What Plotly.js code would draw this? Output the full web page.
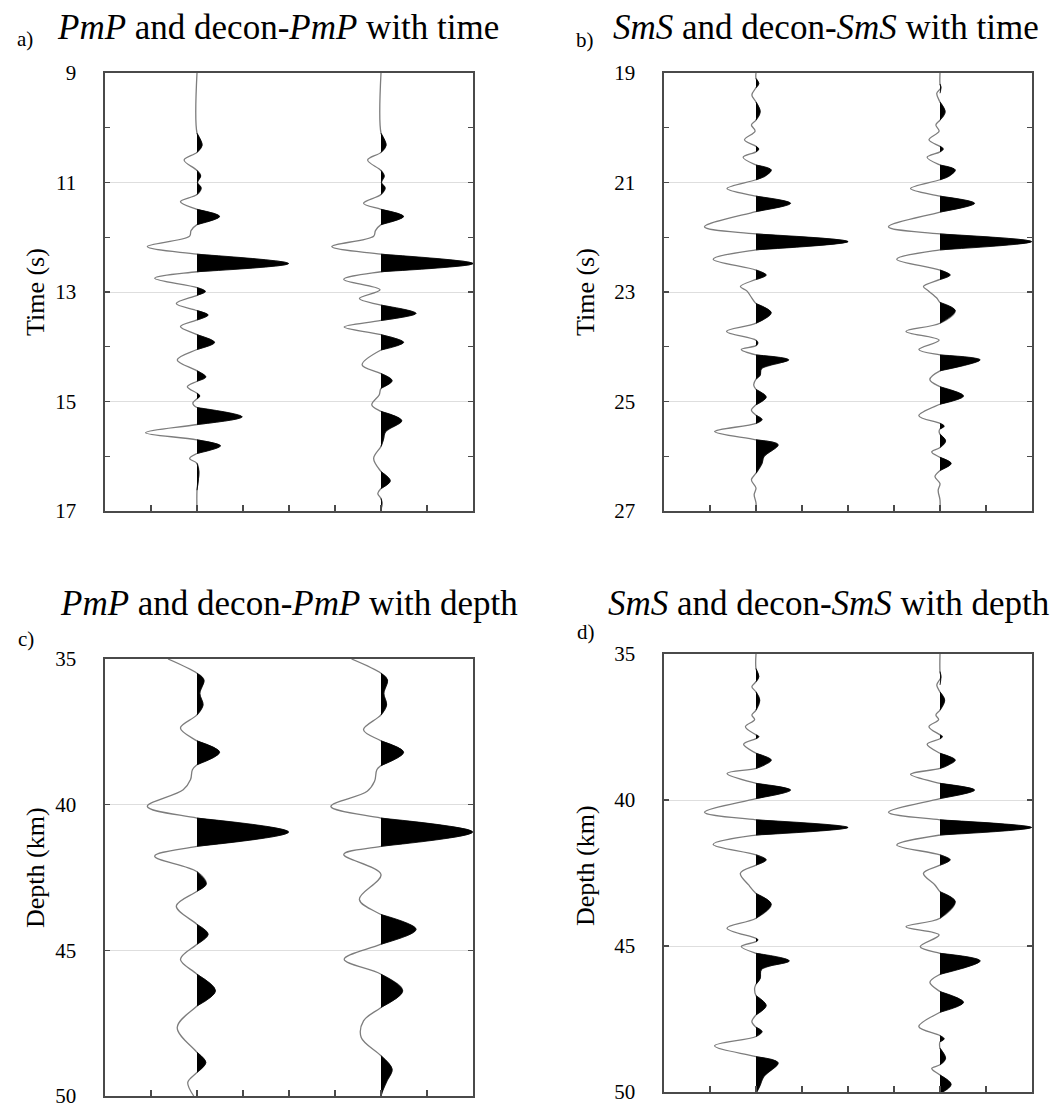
<!DOCTYPE html>
<html><head><meta charset="utf-8">
<script src="https://cdn.plot.ly/plotly-3.0.1.min.js"></script>
<style>html,body{margin:0;padding:0;background:#fff}</style>
</head><body>
<div id="chart" style="width:1062px;height:1107px"></div>
<script>
// ---------- DATA ----------
// a) PmP with time: node times (s) and trace amplitudes
const pmpTimeT = [9.0,10.10,10.32,10.45,10.59,10.78,10.88,11.0,11.10,11.22,11.35,11.49,11.62,11.77,11.88,11.98,12.17,12.31,12.48,12.63,12.75,12.92,12.99,13.06,13.21,13.34,13.42,13.51,13.63,13.78,13.92,14.05,14.24,14.44,14.55,14.63,14.73,14.85,14.90,14.95,15.03,15.11,15.28,15.42,15.57,15.70,15.81,15.95,16.04,16.13,16.28,16.62,17.0];
const pmpTimeA = [0,0,0.11,0,-0.28,0,0.08,0.01,0.09,0,-0.36,0,0.49,0,-0.13,-0.16,-1.08,0,1.99,0,-0.92,0,0.18,0,-0.45,0,0.24,0,-0.36,0,0.38,0,-0.43,0,0.19,0,-0.21,0,0.06,0,-0.09,0,0.98,0,-1.12,0,0.51,0,-0.16,0,0.04,0,0];
// a) decon-PmP with time
const deconPmpTimeT = [9.0,10.10,10.32,10.45,10.59,10.78,10.88,11.0,11.10,11.22,11.38,11.49,11.62,11.77,11.88,11.98,12.17,12.31,12.48,12.63,12.77,12.96,13.12,13.24,13.39,13.52,13.64,13.78,13.92,14.06,14.33,14.49,14.62,14.76,14.88,15.06,15.18,15.35,15.55,15.70,15.82,16.04,16.28,16.45,16.59,16.68,16.77,16.85,17.0];
const deconPmpTimeA = [0,0,0.11,0,-0.29,0,0.07,0.01,0.09,0,-0.38,0,0.49,0,-0.12,-0.16,-1.07,0,2.0,0,-0.81,-0.02,-0.47,0,0.76,0,-0.80,0,0.49,0,-0.41,0,0.24,0,-0.04,-0.20,0,0.45,0.10,0.05,0,-0.16,0,0.20,0,-0.07,0,0.02,0];
// b) SmS with time
const smsTimeT = [19.0,19.10,19.19,19.27,19.40,19.53,19.71,19.86,19.95,20.06,20.22,20.34,20.39,20.44,20.54,20.68,20.77,20.88,20.95,21.11,21.25,21.38,21.53,21.81,21.94,22.08,22.23,22.40,22.60,22.69,22.77,22.90,22.98,23.11,23.21,23.38,23.57,23.72,23.88,23.93,23.98,24.05,24.15,24.24,24.40,24.52,24.59,24.70,24.78,24.92,25.06,25.16,25.25,25.33,25.40,25.55,25.70,25.79,26.01,26.13,26.31,26.43,26.58,26.70,26.85,27.0];
const smsTimeA = [0,0,0.06,0,-0.09,0,0.09,0,-0.10,-0.02,-0.25,0,0.06,0,-0.28,0,0.33,0.20,0,-0.63,0,0.75,0,-1.12,0,2.0,0,-0.93,0,0.22,0,-0.34,-0.20,-0.09,0,0.33,0,-0.64,0,0.04,0,-0.32,0,0.71,0.12,0.09,0,-0.05,0,0.22,0,-0.10,0,0.13,0,-0.90,0,0.48,0.17,0.13,0,-0.10,0,-0.04,0,0];
// b) decon-SmS with time
const deconSmsTimeT = [19.0,19.20,19.27,19.37,19.53,19.71,19.86,19.95,20.06,20.22,20.34,20.39,20.44,20.54,20.68,20.77,20.88,20.95,21.11,21.25,21.38,21.54,21.81,21.94,22.08,22.23,22.40,22.60,22.69,22.77,22.90,22.98,23.11,23.19,23.34,23.57,23.72,23.88,24.05,24.15,24.24,24.44,24.60,24.73,24.90,25.05,25.26,25.40,25.45,25.50,25.55,25.60,25.72,25.84,25.92,26.02,26.13,26.26,26.37,26.50,26.62,26.80,27.0];
const deconSmsTimeA = [0,0,0.02,-0.07,0,0.11,0,-0.09,-0.02,-0.24,0,0.07,0,-0.28,0,0.33,0.20,0,-0.64,0,0.75,0,-1.12,0,1.99,0,-0.94,0,0.22,0,-0.36,-0.25,-0.07,0,0.33,0,-0.74,-0.02,-0.46,0,0.87,0,-0.22,0,0.51,0,-0.46,0,0.09,0,-0.02,0,0.12,0,-0.18,0,0.24,0,-0.11,0,-0.04,0,0];
// c) PmP with depth (km)
const pmpDepthZ = [35.0,35.49,35.72,36.18,36.58,36.92,37.37,37.81,38.20,38.63,38.80,39.14,39.49,40.06,40.46,40.94,41.43,41.77,42.30,42.72,42.97,43.48,44.11,44.45,44.79,45.31,45.82,46.39,46.91,47.65,48.50,48.85,49.19,49.53,50.0];
const pmpDepthA = [-0.63,0,0.15,0.06,0.13,0,-0.36,0,0.49,0,-0.10,-0.14,-0.30,-1.08,0,1.99,0,-0.92,0,0.20,0,-0.45,0,0.24,0,-0.36,0,0.40,0,-0.43,0,0.19,0,-0.20,-0.07];
// c) decon-PmP with depth
const deconPmpDepthZ = [35.0,35.49,35.72,36.18,36.58,36.92,37.43,37.81,38.20,38.66,38.80,39.20,39.54,40.06,40.46,40.94,41.43,41.71,42.40,43.25,43.77,44.28,44.79,45.31,45.82,46.39,46.96,47.42,47.99,48.62,49.08,49.48,49.80,50.0];
const deconPmpDepthA = [-0.64,0,0.14,0.06,0.12,0,-0.38,0,0.49,0,-0.09,-0.14,-0.30,-1.09,0,1.99,0,-0.81,0,-0.47,0,0.76,0,-0.80,0,0.47,0,-0.38,-0.43,0,0.24,0.13,0.04,0];
// d) SmS with depth
const smsDepthZ = [35.0,35.50,35.78,35.95,36.12,36.30,36.58,36.92,37.09,37.25,37.49,37.77,37.83,37.90,38.09,38.40,38.63,38.80,38.92,39.09,39.43,39.66,39.95,40.42,40.68,40.94,41.20,41.52,41.88,42.05,42.23,42.51,42.91,43.20,43.57,44.05,44.39,44.74,44.79,44.85,45.02,45.25,45.51,45.80,46.11,46.31,46.45,46.70,47.04,47.36,47.59,47.78,47.93,48.10,48.42,48.79,49.00,49.47,49.80,50.05];
const smsDepthA = [0,0,0.06,0,-0.09,0,0.08,0,-0.09,-0.03,-0.23,0,0.06,0,-0.27,0,0.33,0.18,0,-0.63,0,0.75,0,-1.12,0,2.0,0,-0.93,0,0.22,0,-0.34,-0.16,0,0.33,0,-0.63,0,0.04,0,-0.32,0,0.72,0.12,0.09,0,-0.03,0,0.22,0,-0.09,0,0.13,0,-0.90,0,0.48,0.17,0.08,0];
// d) decon-SmS with depth
const deconSmsDepthZ = [35.0,35.60,35.80,36.06,36.30,36.58,36.92,37.09,37.25,37.49,37.77,37.83,37.90,38.09,38.40,38.63,38.80,38.92,39.12,39.43,39.66,39.95,40.42,40.68,40.94,41.20,41.54,41.88,42.05,42.23,42.51,42.91,43.14,43.48,44.05,44.34,44.62,45.02,45.25,45.51,45.97,46.24,46.56,46.93,47.27,47.76,48.07,48.18,48.28,48.40,48.50,48.85,49.07,49.19,49.42,49.74,50.05];
const deconSmsDepthA = [0,0,0.02,-0.07,0,0.10,0,-0.09,-0.03,-0.24,0,0.05,0,-0.28,0,0.33,0.18,0,-0.64,0,0.75,0,-1.12,0,1.99,0,-0.94,0,0.22,0,-0.36,-0.11,0,0.33,0,-0.74,-0.02,-0.43,0,0.87,0,-0.22,0,0.51,0,-0.46,0,0.09,0,-0.01,0,0.12,0,-0.18,0,0.24,0];

// trace positions on the horizontal axis and tick values
const traceOffsets = [2, 6];
const xTickVals = [1,2,3,4,5,6,7];
const timeTicksA = [9,11,13,15,17];
const timeMinorA = [10,12,14,16];
const timeTicksB = [19,21,23,25,27];
const timeMinorB = [20,22,24,26];
const depthTicks = [35,40,45,50];

const panelTitles = ['<i>PmP</i> and decon-<i>PmP</i> with time','<i>SmS</i> and decon-<i>SmS</i> with time',
                     '<i>PmP</i> and decon-<i>PmP</i> with depth','<i>SmS</i> and decon-<i>SmS</i> with depth'];
const panelLetters = ['a)','b)','c)','d)'];
const yTitles = ['Time (s)','Time (s)','Depth (km)','Depth (km)'];

// ---------- BUILD ----------
const W = 1062, H = 1107;
const px = v => v / W, py = v => 1 - v / H;
const FONT = "'Liberation Serif', 'Times New Roman', serif";

function wiggle(t, a, off, xa, ya) {
  const line = {x: a.map(v => off + v), y: t, xaxis: xa, yaxis: ya, type: 'scatter', mode: 'lines',
    line: {color: '#7d7d7d', width: 1.3, shape: 'spline', smoothing: 1, simplify: false},
    hoverinfo: 'skip', showlegend: false};
  const fx = [], fy = [];
  let i = 0;
  while (i < a.length) {
    if (a[i] > 0) {
      const seg = [];
      if (i > 0) seg.push(i - 1);
      while (i < a.length && a[i] > 0) { seg.push(i); i++; }
      if (i < a.length) seg.push(i);
      seg.forEach(k => { fx.push(off + Math.max(0, a[k])); fy.push(t[k]); });
      fx.push(null); fy.push(null);
    } else i++;
  }
  const fill = {x: fx, y: fy, xaxis: xa, yaxis: ya, type: 'scatter', mode: 'lines', fill: 'toself',
    fillcolor: '#000', line: {color: '#000', width: 0.8, shape: 'spline', smoothing: 1, simplify: false},
    hoverinfo: 'skip', showlegend: false};
  return [line, fill];
}

const data = [].concat(
  wiggle(pmpTimeT, pmpTimeA, traceOffsets[0], 'x', 'y'),
  wiggle(deconPmpTimeT, deconPmpTimeA, traceOffsets[1], 'x', 'y'),
  wiggle(smsTimeT, smsTimeA, traceOffsets[0], 'x2', 'y2'),
  wiggle(deconSmsTimeT, deconSmsTimeA, traceOffsets[1], 'x2', 'y2'),
  wiggle(pmpDepthZ, pmpDepthA, traceOffsets[0], 'x3', 'y3'),
  wiggle(deconPmpDepthZ, deconPmpDepthA, traceOffsets[1], 'x3', 'y3'),
  wiggle(smsDepthZ, smsDepthA, traceOffsets[0], 'x4', 'y4'),
  wiggle(deconSmsDepthZ, deconSmsDepthA, traceOffsets[1], 'x4', 'y4')
);

const AX = '#4a4a4a';
function xAxis(l, r, anchor) {
  return {domain: [px(l), px(r)], anchor: anchor, range: [0, 8], tickmode: 'array', tickvals: xTickVals,
    ticks: 'inside', ticklen: 6, tickcolor: AX, tickwidth: 1.2, showticklabels: false, showgrid: false,
    zeroline: false, showline: true, linecolor: AX, linewidth: 1.6, mirror: true, fixedrange: true};
}
function yAxis(top, bot, anchor, range, ticks, minor) {
  const ax = {domain: [py(bot), py(top)], anchor: anchor, range: range, tickmode: 'array', tickvals: ticks,
    ticks: 'inside', ticklen: 5, tickcolor: AX, tickwidth: 1.2, showgrid: true, gridcolor: '#dedede', gridwidth: 1,
    zeroline: false, showline: true, linecolor: AX, linewidth: 1.6, mirror: 'ticks', fixedrange: true,
    tickfont: {family: FONT, size: 21, color: '#000'}, ticklabelstandoff: 23, ticklabeloverflow: 'allow'};
  if (minor) ax.minor = {tickmode: 'array', tickvals: minor, ticks: 'inside', ticklen: 5, tickcolor: AX, tickwidth: 1.2, showgrid: false};
  return ax;
}

const titlePos = [[278, 27.5], [826, 27.5], [289, 603], [829, 603]];
const letterPos = [[25, 39], [585, 40], [26, 639], [586, 632]];
const yTitlePos = [[35, 292], [585, 292], [35, 868], [585, 866]];

const annotations = [];
for (let k = 0; k < 4; k++) {
  annotations.push({xref: 'paper', yref: 'paper', x: px(titlePos[k][0]), y: py(titlePos[k][1]), xanchor: 'center', yanchor: 'middle',
    text: panelTitles[k], showarrow: false, font: {family: FONT, size: 35, color: '#000'}});
  annotations.push({xref: 'paper', yref: 'paper', x: px(letterPos[k][0]), y: py(letterPos[k][1]), xanchor: 'center', yanchor: 'middle',
    text: panelLetters[k], showarrow: false, font: {family: FONT, size: 21, color: '#000'}});
  annotations.push({xref: 'paper', yref: 'paper', x: px(yTitlePos[k][0]), y: py(yTitlePos[k][1]), xanchor: 'center', yanchor: 'middle',
    text: yTitles[k], textangle: -90, showarrow: false, font: {family: FONT, size: 26, color: '#000'}});
}

const layout = {
  width: W, height: H, margin: {l: 0, r: 0, t: 0, b: 0}, paper_bgcolor: '#fff', plot_bgcolor: '#fff', showlegend: false,
  font: {family: FONT},
  xaxis: xAxis(105, 473, 'y'),
  yaxis: yAxis(73, 511, 'x', [17, 9], timeTicksA, timeMinorA),
  xaxis2: xAxis(664, 1032, 'y2'),
  yaxis2: yAxis(73, 511, 'x2', [27, 19], timeTicksB, timeMinorB),
  xaxis3: xAxis(105, 473, 'y3'),
  yaxis3: yAxis(659, 1096, 'x3', [50, 35], depthTicks, null),
  xaxis4: xAxis(664, 1032, 'y4'),
  yaxis4: yAxis(654, 1092, 'x4', [50, 35], depthTicks, null),
  annotations: annotations
};

Plotly.newPlot('chart', data, layout, {staticPlot: true, displayModeBar: false});
</script>
</body></html>
